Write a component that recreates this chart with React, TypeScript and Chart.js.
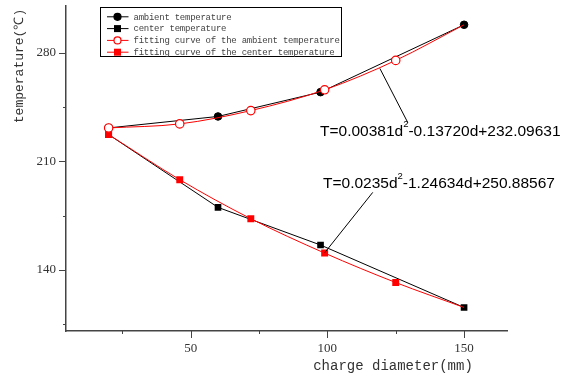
import React, { useEffect, useRef } from 'react';
import { Chart, registerables } from 'chart.js';

Chart.register(...registerables);

// ---- data ----
const ambientD = [20, 60, 97.5, 150];
const ambientT = [231.6, 239.0, 254.7, 298.2];
const centerD = [20, 60, 97.5, 150];
const centerT = [227.3, 180.3, 156.0, 115.7];
const fitD = [20, 46, 72, 99, 125, 150];
const fitAmbientT = [231.6, 234.2, 242.8, 256.2, 275.2, 298.2];
const fitCenterT = [227.3, 198.2, 173.0, 150.8, 131.8, 115.7];

const xTicks = [25, 50, 75, 100, 125, 150];
const xLabelTicks = [50, 100, 150];
const yTicks = [105, 140, 175, 210, 245, 280];
const yLabelTicks = [140, 210, 280];

const seriesLabels = [
  'ambient temperature',
  'center temperature',
  'fitting curve of the ambient temperature',
  'fitting curve of the center temperature',
];

const xTitle = 'charge diameter(mm)';
const yTitle = 'temperature(℃)';

const equations = [
  { pre: 'T=0.00381d', sup: '2', post: '-0.13720d+232.09631' },
  { pre: 'T=0.0235d', sup: '2', post: '-1.24634d+250.88567' },
];

// annotation anchors (data coordinates)
const annotationAnchors = [
  { line: [[119.2, 270.0], [129.4, 235.1]], text: [97.3, 226.7] },
  { line: [[116.6, 190.0], [99.1, 151.2]], text: [98.4, 193.1] },
];

const toXY = (xs: number[], ys: number[]) => xs.map((x, i) => ({ x, y: ys[i] }));

const decorPlugin = {
  id: 'decor',
  afterDraw(chart: any) {
    const { ctx, chartArea } = chart;
    const x = chart.scales.x;
    const y = chart.scales.y;
    ctx.save();

    // tick marks
    ctx.strokeStyle = '#444';
    ctx.lineWidth = 1;
    xTicks.forEach((v) => {
      const px = Math.round(x.getPixelForValue(v)) + 0.5;
      const len = xLabelTicks.includes(v) ? 7 : 3;
      ctx.beginPath();
      ctx.moveTo(px, chartArea.bottom);
      ctx.lineTo(px, chartArea.bottom + len);
      ctx.stroke();
    });
    yTicks.forEach((v) => {
      const py = Math.round(y.getPixelForValue(v)) + 0.5;
      const len = yLabelTicks.includes(v) ? 7 : 3;
      ctx.beginPath();
      ctx.moveTo(chartArea.left, py);
      ctx.lineTo(chartArea.left - len, py);
      ctx.stroke();
    });

    // axis titles
    ctx.fillStyle = '#333';
    ctx.font = '14px "Liberation Mono"';
    ctx.textAlign = 'center';
    ctx.textBaseline = 'middle';
    ctx.fillText(xTitle, x.getPixelForValue(124), 366);
    ctx.save();
    ctx.translate(20, 66);
    ctx.rotate(-Math.PI / 2);
    ctx.font = '13px "Liberation Mono"';
    ctx.fillText(yTitle, 0, 0);
    ctx.restore();

    // annotations
    ctx.strokeStyle = '#000';
    ctx.fillStyle = '#000';
    ctx.lineWidth = 1;
    annotationAnchors.forEach((a, i) => {
      const [[x1, y1], [x2, y2]] = a.line;
      ctx.beginPath();
      ctx.moveTo(x.getPixelForValue(x1), y.getPixelForValue(y1));
      ctx.lineTo(x.getPixelForValue(x2), y.getPixelForValue(y2));
      ctx.stroke();
      const eq = equations[i];
      let tx = x.getPixelForValue(a.text[0]);
      const ty = y.getPixelForValue(a.text[1]);
      ctx.textAlign = 'left';
      ctx.textBaseline = 'alphabetic';
      ctx.font = '15.5px "Liberation Sans"';
      ctx.fillText(eq.pre, tx, ty);
      tx += ctx.measureText(eq.pre).width;
      ctx.font = '9.5px "Liberation Sans"';
      ctx.fillText(eq.sup, tx, ty - 9);
      tx += ctx.measureText(eq.sup).width;
      ctx.font = '15.5px "Liberation Sans"';
      ctx.fillText(eq.post, tx, ty);
    });

    // legend
    const bx = 100.5, by = 7.5, bw = 241, bh = 49;
    ctx.fillStyle = '#fff';
    ctx.fillRect(bx, by, bw, bh);
    ctx.strokeStyle = '#000';
    ctx.lineWidth = 1;
    ctx.strokeRect(bx, by, bw, bh);
    chart.data.datasets.forEach((ds: any, i: number) => {
      const ry = 16.8 + i * 11.8;
      ctx.strokeStyle = ds.borderColor;
      ctx.lineWidth = 1;
      ctx.beginPath();
      ctx.moveTo(107, ry);
      ctx.lineTo(128.5, ry);
      ctx.stroke();
      const cx = 117.5;
      ctx.fillStyle = ds.pointBackgroundColor;
      ctx.strokeStyle = ds.pointBorderColor;
      ctx.lineWidth = 1.2;
      if (ds.pointStyle === 'circle') {
        ctx.beginPath();
        ctx.arc(cx, ry, 3.5, 0, Math.PI * 2);
        ctx.fill();
        ctx.stroke();
      } else {
        ctx.fillRect(cx - 3.5, ry - 3.5, 7, 7);
      }
      ctx.fillStyle = '#444';
      ctx.font = '9px "Liberation Mono"';
      (ctx as any).letterSpacing = '-0.25px';
      ctx.textAlign = 'left';
      ctx.textBaseline = 'middle';
      ctx.fillText(ds.label, 133.5, ry + 0.5);
      (ctx as any).letterSpacing = '0px';
    });

    ctx.restore();
  },
};

export default function App() {
  const ref = useRef<HTMLCanvasElement | null>(null);

  useEffect(() => {
    document.body.style.margin = '0';
    const canvas = ref.current;
    if (!canvas) return;
    const chart = new Chart(canvas, {
      type: 'line',
      data: {
        datasets: [
          {
            label: seriesLabels[0],
            data: toXY(ambientD, ambientT),
            borderColor: '#000',
            borderWidth: 1,
            pointStyle: 'circle',
            pointRadius: 3.8,
            pointBackgroundColor: '#000',
            pointBorderColor: '#000',
            pointBorderWidth: 1,
            order: 1,
          },
          {
            label: seriesLabels[1],
            data: toXY(centerD, centerT),
            borderColor: '#000',
            borderWidth: 1,
            pointStyle: 'rect',
            pointRadius: 4.7,
            pointBackgroundColor: '#000',
            pointBorderColor: '#000',
            pointBorderWidth: 0,
            order: 1,
          },
          {
            label: seriesLabels[2],
            data: toXY(fitD, fitAmbientT),
            borderColor: '#ff0000',
            borderWidth: 1,
            pointStyle: 'circle',
            pointRadius: [4.2, 4.2, 4.2, 4.2, 4.2, 0],
            pointBackgroundColor: '#fff',
            pointBorderColor: '#ff0000',
            pointBorderWidth: 1.2,
            cubicInterpolationMode: 'monotone',
            order: 0,
          },
          {
            label: seriesLabels[3],
            data: toXY(fitD, fitCenterT),
            borderColor: '#ff0000',
            borderWidth: 1,
            pointStyle: 'rect',
            pointRadius: [4.9, 4.9, 4.9, 4.9, 4.9, 0],
            pointBackgroundColor: '#ff0000',
            pointBorderColor: '#ff0000',
            pointBorderWidth: 0,
            cubicInterpolationMode: 'monotone',
            order: 0,
          },
        ],
      },
      options: {
        animation: false,
        responsive: false,
        layout: { padding: { left: 0, right: 54, top: 5, bottom: 0 } },
        plugins: {
          legend: { display: false },
          tooltip: { enabled: false },
        },
        scales: {
          x: {
            type: 'linear',
            min: 4.4,
            max: 165.7,
            afterBuildTicks: (s: any) => {
              s.ticks = xTicks.map((v) => ({ value: v }));
            },
            afterFit: (s: any) => {
              s.height = 46;
              s.paddingLeft = 0;
              s.paddingRight = 0;
            },
            grid: {
              display: true,
              drawOnChartArea: false,
              drawTicks: true,
              tickLength: 7,
              tickColor: 'rgba(0,0,0,0)',
            },
            border: { display: true, color: '#444', width: 1.5 },
            ticks: {
              autoSkip: false,
              maxRotation: 0,
              padding: 3,
              color: '#333',
              font: { family: 'Liberation Serif', size: 13 },
              callback: (v: any) => (xLabelTicks.includes(Number(v)) ? String(v) : ''),
            },
          },
          y: {
            type: 'linear',
            min: 100.5,
            max: 310.7,
            afterBuildTicks: (s: any) => {
              s.ticks = yTicks.map((v) => ({ value: v }));
            },
            afterFit: (s: any) => {
              s.width = 66;
              s.paddingTop = 0;
              s.paddingBottom = 0;
            },
            grid: {
              display: true,
              drawOnChartArea: false,
              drawTicks: true,
              tickLength: 7,
              tickColor: 'rgba(0,0,0,0)',
            },
            border: { display: true, color: '#444', width: 1.5 },
            ticks: {
              autoSkip: false,
              padding: 3,
              color: '#333',
              font: { family: 'Liberation Serif', size: 13 },
              callback: (v: any) => (yLabelTicks.includes(Number(v)) ? String(v) : ''),
            },
          },
        },
      },
      plugins: [decorPlugin],
    } as any);
    return () => chart.destroy();
  }, []);

  return <canvas ref={ref} width={561} height={377} style={{ display: 'block' }} />;
}
